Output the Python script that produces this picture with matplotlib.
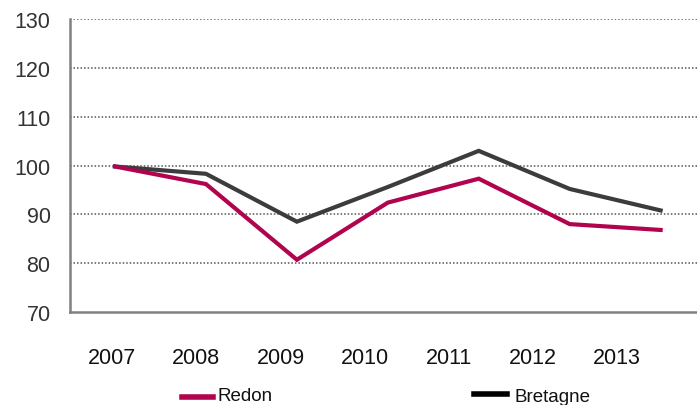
import matplotlib.pyplot as plt
from matplotlib.lines import Line2D
import numpy as np

plt.rcParams['font.family'] = ['Liberation Sans', 'DejaVu Sans']

years = ["2007", "2008", "2009", "2010", "2011", "2012", "2013"]
redon = [99.8, 96.2, 80.7, 92.4, 97.3, 88.0, 86.8]
bretagne = [99.8, 98.3, 88.5, 95.6, 103.0, 95.2, 90.8]

red_col = "#b0054e"
grey_col = "#3c3c3c"

fig = plt.figure(figsize=(6.97, 4.06), dpi=100)
ax = fig.add_axes([70/697, 1-313/406, 1-70/697, (313-20)/406])

x = np.arange(len(years))
ax.plot(x, bretagne, color=grey_col, lw=3.0, solid_joinstyle="miter")
ax.plot(x, redon, color=red_col, lw=3.0, solid_joinstyle="miter")

ax.set_xlim(-0.495, 6.40)
ax.set_ylim(70, 130)
ax.set_yticks(range(70, 131, 10))
for v in range(80, 131, 10):
    ax.axhline(v, color="#555555", lw=1.1, ls=(0, (1, 1.3)), zorder=0)

# year labels sit slightly left of the points in the original
ax.set_xticks(x*0.925 - 0.03)
ax.set_xticklabels(years)
ax.tick_params(axis="x", length=0, pad=25, labelsize=15.5, colors="#111111")
ax.tick_params(axis="y", length=0, pad=14, labelsize=15.5, labelcolor="#333333")

for s in ["top", "right"]:
    ax.spines[s].set_visible(False)
for s in ["left", "bottom"]:
    ax.spines[s].set_color("#808080")
    ax.spines[s].set_linewidth(1.8)

# legend drawn by hand
fig.add_artist(Line2D([182/697, 213/697], [1-398/406]*2, color=red_col, lw=4))
fig.text(218/697, 1-397/406, "Redon", fontsize=13.5, va="center", color="#111111")
fig.add_artist(Line2D([474/697, 507/697], [1-395/406]*2, color="black", lw=4))
fig.text(514/697, 1-398/406, "Bretagne", fontsize=13.5, va="center", color="#111111")

fig.savefig("out.png", dpi=100)
